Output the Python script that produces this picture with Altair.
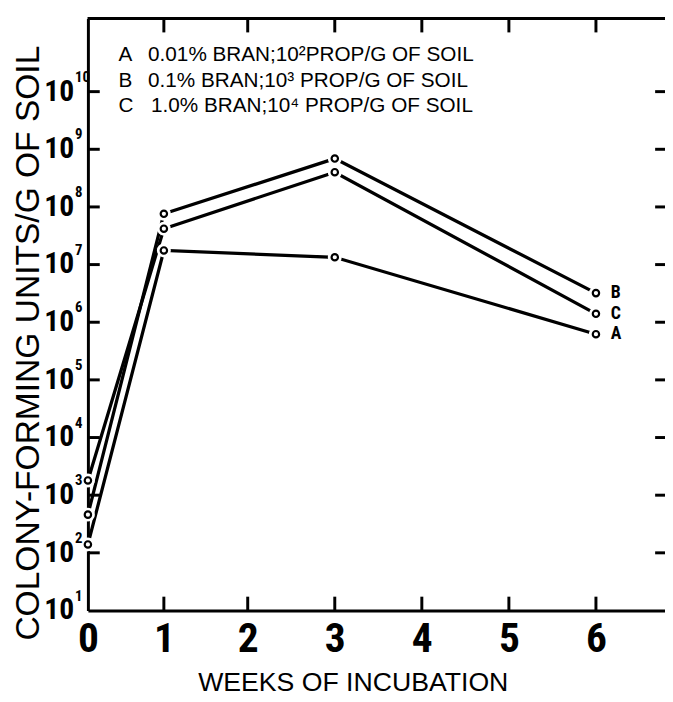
import altair as alt
import pandas as pd

# ---- data ----
weeks = [0, 1, 3, 6]
series_a = [1.4e2, 1.76e7, 1.34e7, 6.2e5]
series_b = [4.6e2, 7.6e7, 6.9e8, 3.2e6]
series_c = [1.8e3, 4.2e7, 4.0e8, 1.4e6]
series_names = ["A", "B", "C"]
legend_letters = ["A", "B", "C"]
legend_texts = [
    "0.01% BRAN;10\u00b2PROP/G OF SOIL",
    "0.1% BRAN;10\u00b3 PROP/G OF SOIL",
    "1.0% BRAN;10\u2074 PROP/G OF SOIL",
]
x_ticks = [0, 1, 2, 3, 4, 5, 6]
y_exponents = [1, 2, 3, 4, 5, 6, 7, 8, 9, 10]
x_title = "WEEKS OF INCUBATION"
y_title = "COLONY-FORMING UNITS/G OF SOIL"

FONT = "'Liberation Sans', Arial, Helvetica, sans-serif"
FONT_C = ("'Liberation Sans Narrow', 'Arial Narrow', 'Roboto Condensed', "
          "'Noto Sans Condensed', 'Liberation Sans', Arial, sans-serif")

W, H = 585, 600

rows = []
for name, vals in zip(series_names, [series_a, series_b, series_c]):
    for w, v in zip(weeks, vals):
        rows.append({"series": name, "week": w, "cfu": v})
df = pd.DataFrame(rows)

xscale = alt.Scale(domain=[0, 1, 2, 6, 6.79], range=[0, 77, 162, 515, 585])
yscale = alt.Scale(type="log", domain=[10, 10 ** 11.267], nice=False)

X = alt.X("week:Q", scale=xscale,
          axis=alt.Axis(values=x_ticks, format="d", ticks=False, grid=False, domainWidth=3,
                        domainColor="black", labelFont=FONT_C, labelFontSize=42,
                        labelFontWeight="bold", labelColor="black", labelPadding=9,
                        title=None, labelFlush=False, labelOverlap=False))
Y = alt.Y("cfu:Q", scale=yscale,
          axis=alt.Axis(labels=False, ticks=False, grid=False, domainWidth=3,
                        domainColor="black", title=None))

base = alt.Chart(df)

lines = base.mark_line(color="black", strokeWidth=3.3).encode(
    x=X, y=Y, detail="series:N", order="week:Q")
halo = base.mark_point(shape="circle", filled=True, color="white", size=200, opacity=1).encode(
    x="week:Q", y="cfu:Q")
pts = base.mark_point(shape="circle", fill="white", stroke="black", strokeWidth=2.2,
                      size=42, opacity=1).encode(x="week:Q", y="cfu:Q")
end_labels = base.transform_filter(alt.datum.week == 6).mark_text(
    font=FONT_C, fontSize=18, fontWeight="bold", align="left", baseline="middle",
    dx=15, color="black").encode(x="week:Q", y="cfu:Q", text="series:N")

# tick marks (inward)
xt = pd.DataFrame({"week": x_ticks[1:]})
yt = pd.DataFrame({"cfu": [10.0 ** e for e in y_exponents]})
bottom_ticks = alt.Chart(xt).mark_rule(color="black", strokeWidth=3).encode(
    x="week:Q", y=alt.value(H), y2=alt.value(H - 14))
top_ticks = alt.Chart(xt).mark_rule(color="black", strokeWidth=3).encode(
    x="week:Q", y=alt.value(0), y2=alt.value(14))
left_ticks = alt.Chart(yt).transform_filter(alt.datum.cfu > 10).mark_rule(
    color="black", strokeWidth=3).encode(y="cfu:Q", x=alt.value(0), x2=alt.value(12))
right_ticks = alt.Chart(yt).transform_filter(alt.datum.cfu > 10).mark_rule(
    color="black", strokeWidth=3).encode(y="cfu:Q", x=alt.value(W - 10), x2=alt.value(W))
top_line = alt.Chart(xt).mark_rule(color="black", strokeWidth=3).encode(
    x=alt.value(0), x2=alt.value(W), y=alt.value(0))

# y tick labels 10^n
ylab = pd.DataFrame({
    "cfu": [10.0 ** e for e in y_exponents],
    "base": ["10"] * len(y_exponents),
    "exp": [str(e) for e in y_exponents],
})
ylab_base = alt.Chart(ylab).mark_text(
    font=FONT_C, fontSize=30, fontWeight="bold", align="right", baseline="middle",
    color="black").encode(y="cfu:Q", x=alt.value(-14), text="base:N")
ylab_exp = alt.Chart(ylab).mark_text(
    font=FONT_C, fontSize=15, fontWeight="bold", align="left", baseline="top",
    dy=-22, color="black").encode(y="cfu:Q", x=alt.value(-13), text="exp:N")

# legend text
legend_layers = []
for i, (letter, txt) in enumerate(zip(legend_letters, legend_texts)):
    ly = 37 + 26 * i
    d = pd.DataFrame({"letter": [letter], "txt": [txt]})
    legend_layers.append(alt.Chart(d).mark_text(
        font=FONT, fontSize=21, align="left", baseline="middle", color="black").encode(
        x=alt.value(31), y=alt.value(ly), text="letter:N"))
    legend_layers.append(alt.Chart(d).mark_text(
        font=FONT, fontSize=21, align="left", baseline="middle", color="black").encode(
        x=alt.value(61 if i < 2 else 64), y=alt.value(ly), text="txt:N"))

tdf = pd.DataFrame({"xt": [x_title], "yt": [y_title]})
xtitle = alt.Chart(tdf).mark_text(font=FONT, fontSize=27, align="center", baseline="middle",
                                  color="black").encode(
    x=alt.value(269), y=alt.value(674), text="xt:N")
ytitle = alt.Chart(tdf).mark_text(font=FONT, fontSize=34, angle=270, align="center",
                                  baseline="middle", color="black").encode(
    x=alt.value(-60), y=alt.value(329), text="yt:N")

chart = alt.layer(
    lines, halo, pts, end_labels,
    bottom_ticks, top_ticks, left_ticks, right_ticks, top_line,
    ylab_base, ylab_exp, xtitle, ytitle, *legend_layers
).properties(
    width=W, height=H,
    autosize=alt.AutoSizeParams(type="none"),
    padding={"left": 81, "top": 6, "right": 0, "bottom": 86},
    background="white",
).configure_view(stroke=None)

chart.save("out.html", embed_options={"renderer": "svg", "actions": False})
